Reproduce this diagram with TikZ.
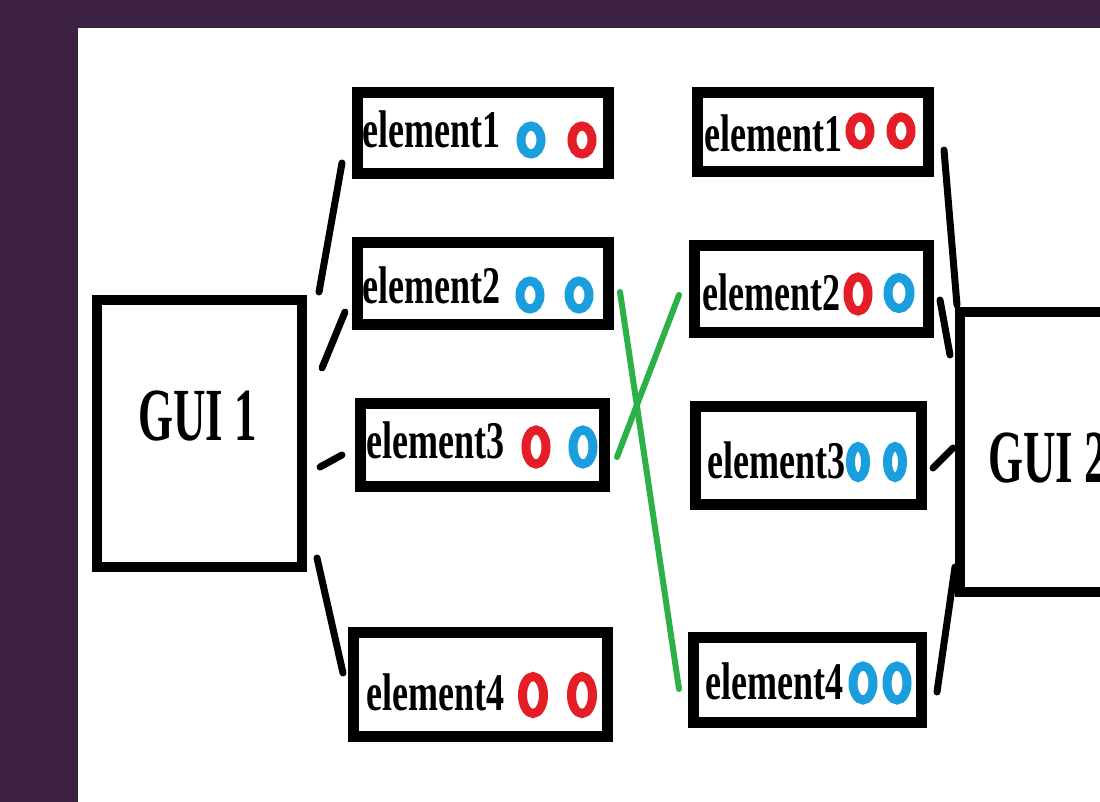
\documentclass[tikz,border=0pt]{standalone}
\usepackage{fontspec}
\usepackage{graphicx}
\setmainfont{Liberation Serif}
\usetikzlibrary{shapes.geometric}
\definecolor{bgpurple}{RGB}{60,33,66}
\definecolor{ringblue}{RGB}{27,158,222}
\definecolor{ringred}{RGB}{228,30,38}
\definecolor{linkgreen}{RGB}{44,176,72}
\newcommand{\elt}[1]{\scalebox{0.68}[1]{#1}}
\newcommand{\guit}[1]{\scalebox{0.6}[1]{#1}}
\tikzset{
  ebox/.style={draw=black, line width=10.5pt, fill=white, inner sep=0pt},
  guibox/.style={draw=black, line width=10pt, fill=white, inner sep=0pt},
  lbl/.style={inner sep=0pt, anchor=base west, font=\bfseries\fontsize{53}{60}\selectfont},
  guilbl/.style={inner sep=0pt, anchor=base west, font=\bfseries\fontsize{75}{80}\selectfont},
  ring/.style={ellipse, draw=#1, line width=9pt, inner sep=0pt, minimum width=20pt, minimum height=28pt},
  link/.style={draw=black, line width=7pt, line cap=round},
  glink/.style={draw=linkgreen, line width=6pt, line cap=round}
}
\begin{document}
\begin{tikzpicture}[x=1pt,y=-1pt]
\useasboundingbox (0,0) rectangle (1100,802);
\clip (0,0) rectangle (1100,802);
\fill[bgpurple] (0,0) rectangle (1100,802);
\fill[white] (78,28) rectangle (1100,802);

% GUI boxes
\node[guibox, minimum width=205pt, minimum height=267pt] (gui1) at (199.5,433.5) {};
\node[guilbl] (gui1t) at (138,440) {\guit{GUI 1}};
\node[guibox, minimum width=240pt, minimum height=280pt] (gui2) at (1080,452) {};
\node[guilbl] (gui2t) at (988,482) {\guit{GUI 2}};

% Left element boxes
\node[ebox, minimum width=251pt, minimum height=81pt] (l1) at (483,133) {};
\node[ebox, minimum width=251pt, minimum height=82pt] (l2) at (483,283.5) {};
\node[ebox, minimum width=244pt, minimum height=83pt] (l3) at (482.5,445) {};
\node[ebox, minimum width=254pt, minimum height=104pt] (l4) at (480.5,684.5) {};
\node[lbl] (l1t) at (362,148) {\elt{element1}};
\node[lbl] (l2t) at (362,303) {\elt{element2}};
\node[lbl] (l3t) at (366,458) {\elt{element3}};
\node[lbl] (l4t) at (366,710) {\elt{element4}};
\node[ring=ringblue] (l1a) at (531,140) {};
\node[ring=ringred]  (l1b) at (582,140) {};
\node[ring=ringblue] (l2a) at (530,295) {};
\node[ring=ringblue] (l2b) at (579,295) {};
\node[ring=ringred, minimum height=34pt]  (l3a) at (536,447) {};
\node[ring=ringblue, minimum height=34pt] (l3b) at (583,447) {};
\node[ring=ringred, minimum width=21pt, minimum height=37pt]  (l4a) at (533,695) {};
\node[ring=ringred, minimum width=21pt, minimum height=37pt]  (l4b) at (582,695) {};

% Right element boxes
\node[ebox, minimum width=231pt, minimum height=79pt] (r1) at (813,132) {};
\node[ebox, minimum width=234pt, minimum height=87pt] (r2) at (811.5,289) {};
\node[ebox, minimum width=226pt, minimum height=98pt] (r3) at (808.5,455.5) {};
\node[ebox, minimum width=228pt, minimum height=85pt] (r4) at (807.5,680) {};
\node[lbl] (r1t) at (704,152) {\elt{element1}};
\node[lbl] (r2t) at (702,310) {\elt{element2}};
\node[lbl] (r3t) at (707,478) {\elt{element3}};
\node[lbl] (r4t) at (705,699) {\elt{element4}};
\node[ring=ringred]  (r1a) at (860,131) {};
\node[ring=ringred]  (r1b) at (901,131) {};
\node[ring=ringred, minimum height=34pt]  (r2a) at (858,294) {};
\node[ring=ringblue, minimum width=22pt, minimum height=31pt] (r2b) at (899,293) {};
\node[ring=ringblue, minimum width=15pt, minimum height=31pt] (r3a) at (858,462) {};
\node[ring=ringblue, minimum width=15pt, minimum height=31pt] (r3b) at (895,462) {};
\node[ring=ringblue, minimum height=34pt] (r4a) at (863,683) {};
\node[ring=ringblue, minimum height=34pt] (r4b) at (897,683) {};

% connector end points
\coordinate (g1a) at (319,292); \coordinate (l1c) at (342,163);
\coordinate (g1b) at (322,368); \coordinate (l2c) at (345,312);
\coordinate (g1c) at (320,467); \coordinate (l3c) at (342,455);
\coordinate (g1d) at (317,558); \coordinate (l4c) at (343,673);
\coordinate (g2a) at (957,305); \coordinate (r1c) at (944,150);
\coordinate (g2b) at (950,355); \coordinate (r2c) at (940,300);
\coordinate (g2c) at (953,448); \coordinate (r3c) at (933,468);
\coordinate (g2d) at (955,567); \coordinate (r4c) at (937,692);
\coordinate (l2g) at (620,292); \coordinate (r4g) at (679,689);
\coordinate (l3g) at (617,457); \coordinate (r2g) at (679,295);

\draw[link] (g1a) -- (l1c);
\draw[link] (g1b) -- (l2c);
\draw[link] (g1c) -- (l3c);
\draw[link] (g1d) -- (l4c);
\draw[link] (g2a) -- (r1c);
\draw[link] (g2b) -- (r2c);
\draw[link] (g2c) -- (r3c);
\draw[link] (g2d) -- (r4c);
\draw[glink] (l2g) -- (r4g);
\draw[glink] (l3g) -- (r2g);
\end{tikzpicture}
\end{document}
